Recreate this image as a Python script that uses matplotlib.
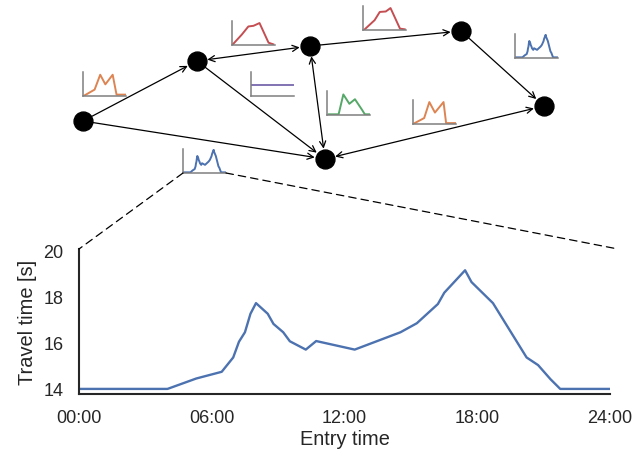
import matplotlib.pyplot as plt
from matplotlib.patches import ConnectionPatch

plt.rcParams['font.family'] = ['Liberation Sans', 'DejaVu Sans']

# travel time over the day (main plot)
hours = [0, 4.0, 5.3, 6.45, 6.97, 7.23, 7.5, 7.75, 8.0, 8.53, 8.79, 9.23, 9.53, 10.25,
         10.72, 12.46, 14.53, 15.27, 16.22, 16.51, 17.45, 17.74, 18.71, 20.23, 20.75,
         21.31, 21.75, 24]
travel = [14.0, 14.0, 14.45, 14.74, 15.36, 16.04, 16.45, 17.25, 17.71, 17.25, 16.81,
          16.45, 16.06, 15.7, 16.07, 15.7, 16.45, 16.84, 17.67, 18.16, 19.13, 18.62,
          17.71, 15.36, 15.03, 14.42, 14.0, 14.0]
xticks = [0, 6, 12, 18, 24]
xlabels = ['00:00', '06:00', '12:00', '18:00', '24:00']
yticks = [14, 16, 18, 20]

# small profiles on the edges (normalised 0..1)
orange_x = [0.04, 0.27, 0.40, 0.52, 0.69, 0.78, 0.98]
orange_y = [0.03, 0.28, 0.93, 0.51, 0.93, 0.06, 0.06]
orange2_x = [0.03, 0.26, 0.38, 0.51, 0.71, 0.77, 0.98]
orange2_y = [0.03, 0.26, 0.96, 0.50, 0.96, 0.04, 0.04]
red_x = [0.02, 0.23, 0.38, 0.50, 0.64, 0.85, 0.96]
red_y = [0.03, 0.46, 0.81, 0.84, 0.96, 0.10, 0.03]
red2_x = [0.04, 0.27, 0.39, 0.53, 0.64, 0.86, 0.97]
red2_y = [0.03, 0.43, 0.79, 0.81, 0.96, 0.06, 0.03]
green_x = [0.04, 0.27, 0.38, 0.52, 0.65, 0.81, 0.88, 0.98]
green_y = [0.03, 0.03, 0.90, 0.49, 0.69, 0.24, 0.03, 0.03]
purple_x = [0.03, 0.97]
purple_y = [0.5, 0.5]

# network layout (pixel positions)
pos = {'A': (83, 122), 'B': (197, 62), 'C': (310, 47), 'D': (325, 160),
       'E': (461, 32), 'F': (544, 107)}
edges = [('A', 'B', '->'), ('A', 'D', '->'), ('B', 'C', '<->'), ('B', 'D', '->'),
         ('C', 'D', '<->'), ('C', 'E', '->'), ('E', 'F', '->'), ('D', 'F', '<->')]

W, H = 644, 456
fig = plt.figure(figsize=(W / 100, H / 100), dpi=100)

net = fig.add_axes([0, 0, 1, 1])
net.set_xlim(0, W)
net.set_ylim(H, 0)
net.axis('off')
for a, b, style in edges:
    net.annotate('', xy=pos[b], xytext=pos[a],
                 arrowprops=dict(arrowstyle=style, color='black', lw=0.9,
                                 shrinkA=7.5, shrinkB=7.5, mutation_scale=11))
net.scatter([p[0] for p in pos.values()], [p[1] for p in pos.values()],
            s=185, color='black', zorder=3)


def spark(x0, y0, x, y, color, xlim=(0, 1), ylim=(0, 1.05)):
    # x0, y0 = bottom-left corner in pixels
    ax = fig.add_axes([x0 / W, 1 - y0 / H, 43 / W, 24 / H])
    ax.plot(x, y, color=color, lw=1.4)
    ax.set_xlim(*xlim)
    ax.set_ylim(*ylim)
    ax.set_xticks([])
    ax.set_yticks([])
    ax.patch.set_alpha(0)
    for s in ['top', 'right']:
        ax.spines[s].set_visible(False)
    for s in ['left', 'bottom']:
        ax.spines[s].set_color('#7f7f7f')
        ax.spines[s].set_linewidth(1.1)
    return ax


spark(83, 97, orange_x, orange_y, '#DD8452')
spark(232, 46, red_x, red_y, '#C44E52')
spark(251, 97, purple_x, purple_y, '#8172B3')
spark(327, 116, green_x, green_y, '#55A868')
zoom_ax = spark(183, 174, hours, travel, '#4C72B0', xlim=(-0.3, 24.6), ylim=(13.85, 19.3))
spark(363, 31, red2_x, red2_y, '#C44E52')
spark(515, 59, hours, travel, '#4C72B0', xlim=(-0.3, 24.6), ylim=(13.85, 19.3))
spark(413, 125, orange2_x, orange2_y, '#DD8452')

# main plot
ax = fig.add_axes([79 / W, 1 - 395 / H, 531 / W, 145 / H])
ax.plot(hours, travel, color='#4C72B0', lw=1.7)
ax.set_xlim(0, 24)
ax.set_ylim(13.78, 20.05)
ax.set_xticks(xticks)
ax.set_xticklabels(xlabels)
ax.set_yticks(yticks)
ax.tick_params(length=0, pad=11, labelsize=13, labelcolor='#262626')
for s in ['top', 'right']:
    ax.spines[s].set_visible(False)
for s in ['left', 'bottom']:
    ax.spines[s].set_color('#262626')
    ax.spines[s].set_linewidth(1.5)
ax.set_xlabel('Entry time', fontsize=14.4, color='#262626', labelpad=2)
ax.set_ylabel('Travel time [s]', fontsize=14.4, color='#262626', labelpad=5)

# dashed lines from the small profile down to the main plot
for xa, xb in [(0, 0), (1, 1.015)]:
    con = ConnectionPatch(xyA=(xa, 0), coordsA=zoom_ax.transAxes,
                          xyB=(xb, 1), coordsB=ax.transAxes,
                          color='black', lw=0.9, linestyle=(0, (6, 4)))
    fig.add_artist(con)

plt.savefig('out.png', dpi=100)
